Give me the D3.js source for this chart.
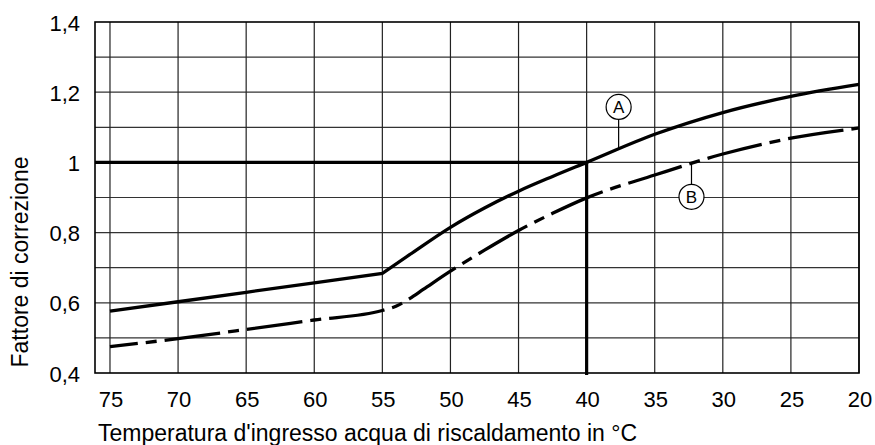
<!DOCTYPE html>
<html>
<head>
<meta charset="utf-8">
<script src="https://cdn.jsdelivr.net/npm/d3@7"></script>
<style>
  body { margin: 0; background: #fff; }
  svg { font-family: "Liberation Sans", Arial, sans-serif; }
</style>
</head>
<body>
<div id="chart"></div>
<script>
// Data
var temps = [75, 70, 65, 60, 55, 53, 50, 47.5, 45, 42.5, 40, 35, 30, 25, 20];
var curveA = [0.576, 0.603, 0.630, 0.657, 0.684, 0.737, 0.815, 0.870, 0.918, 0.960, 1.0, 1.080, 1.142, 1.188, 1.222];
var kinkA = 55; // curve A has a sharp corner here

var tempsB = [75, 70, 65, 60, 55, 54, 53, 52, 50, 47.5, 45, 42.5, 40, 35, 30, 25, 20];
var curveB = [0.475, 0.498, 0.524, 0.551, 0.578, 0.590, 0.612, 0.638, 0.690, 0.750, 0.806, 0.855, 0.899, 0.964, 1.024, 1.069, 1.098];

var xTicks = [75, 70, 65, 60, 55, 50, 45, 40, 35, 30, 25, 20];
var yGrid = [0.5, 0.6, 0.7, 0.8, 0.9, 1.0, 1.1, 1.2, 1.3];
var yTicks = [0.4, 0.6, 0.8, 1.0, 1.2, 1.4];

// reference point (40 °C -> factor 1)
var refPoint = {t: 40, v: 1.0};

// callout labels: circle position and where the leader meets the curve
var callouts = [
    {name: "A", t: 37.65, v: 1.158, to: 1.040},
    {name: "B", t: 32.3, v: 0.902, to: 1.000}
];

var width = 875, height = 445;

var svg = d3.select("#chart")
    .append("svg")
    .attr("width", width)
    .attr("height", height);

var x = d3.scaleLinear().domain([76.1, 20]).range([95, 859]);
var y = d3.scaleLinear().domain([0.4, 1.4]).range([373, 22]);

var fmt = function(d) {
    return d3.format(".1f")(d).replace(".", ",").replace(",0", "");
};

//Grid
svg.append("g")
    .selectAll("line")
    .data(yGrid)
    .enter()
    .append("line")
    .attr("x1", x.range()[0])
    .attr("x2", x.range()[1])
    .attr("y1", d => y(d))
    .attr("y2", d => y(d))
    .attr("stroke", "#333")
    .attr("stroke-width", 1.2);

svg.append("g")
    .selectAll("line")
    .data(xTicks)
    .enter()
    .append("line")
    .attr("x1", d => x(d))
    .attr("x2", d => x(d))
    .attr("y1", y.range()[0])
    .attr("y2", y.range()[1])
    .attr("stroke", "#222")
    .attr("stroke-width", 1.2);

//Frame
svg.append("rect")
    .attr("x", x.range()[0])
    .attr("y", y.range()[1])
    .attr("width", x.range()[1] - x.range()[0])
    .attr("height", y.range()[0] - y.range()[1])
    .attr("fill", "none")
    .attr("stroke", "#000")
    .attr("stroke-width", 1.6);

//Reference lines
svg.append("line")
    .attr("x1", x.range()[0])
    .attr("x2", x(refPoint.t))
    .attr("y1", y(refPoint.v))
    .attr("y2", y(refPoint.v))
    .attr("stroke", "#000")
    .attr("stroke-width", 3.2);

svg.append("line")
    .attr("x1", x(refPoint.t))
    .attr("x2", x(refPoint.t))
    .attr("y1", y(refPoint.v))
    .attr("y2", y.range()[0] + 2)
    .attr("stroke", "#000")
    .attr("stroke-width", 3.2);

//Curves
var smooth = d3.line()
    .x(d => x(d[0]))
    .y(d => y(d[1]))
    .curve(d3.curveMonotoneX);

var straight = d3.line()
    .x(d => x(d[0]))
    .y(d => y(d[1]));

// A: straight up to the kink, smooth after it
var ptsA = d3.zip(temps, curveA);
var partA1 = ptsA.filter(d => d[0] >= kinkA);
var partA2 = ptsA.filter(d => d[0] <= kinkA);

svg.append("path")
    .attr("d", straight(partA1) + smooth(partA2).replace(/^M/, "L"))
    .attr("fill", "none")
    .attr("stroke", "#000")
    .attr("stroke-width", 3.3)
    .attr("stroke-linejoin", "miter");

svg.append("path")
    .datum(d3.zip(tempsB, curveB))
    .attr("d", smooth)
    .attr("fill", "none")
    .attr("stroke", "#000")
    .attr("stroke-width", 3.3)
    .attr("stroke-dasharray", "56,8,11,8")
    .attr("stroke-dashoffset", 28);

//Callouts
var r = 12.5;
var call = svg.append("g")
    .selectAll("g")
    .data(callouts)
    .enter()
    .append("g");

call.append("line")
    .attr("x1", d => x(d.t))
    .attr("x2", d => x(d.t))
    .attr("y1", d => y(d.v) + (d.to > d.v ? -r : r))
    .attr("y2", d => y(d.to))
    .attr("stroke", "#000")
    .attr("stroke-width", 1.2);

call.append("circle")
    .attr("cx", d => x(d.t))
    .attr("cy", d => y(d.v))
    .attr("r", r)
    .attr("fill", "#fff")
    .attr("stroke", "#000")
    .attr("stroke-width", 1.2);

call.append("text")
    .attr("x", d => x(d.t))
    .attr("y", d => y(d.v))
    .attr("dy", "0.36em")
    .attr("text-anchor", "middle")
    .style("font-size", "17px")
    .text(d => d.name);

//Tick labels
svg.append("g")
    .selectAll("text")
    .data(xTicks)
    .enter()
    .append("text")
    .attr("x", d => x(d) + 1)
    .attr("y", y.range()[0] + 33.5)
    .attr("text-anchor", "middle")
    .style("font-size", "22px")
    .text(d => d);

svg.append("g")
    .selectAll("text")
    .data(yTicks)
    .enter()
    .append("text")
    .attr("x", 80)
    .attr("y", d => y(d) + 8.5)
    .attr("text-anchor", "end")
    .style("font-size", "22px")
    .text(fmt);

//Axis titles
svg.append("text")
    .attr("x", 98)
    .attr("y", 440.5)
    .style("font-size", "23px")
    .text("Temperatura d'ingresso acqua di riscaldamento in °C");

svg.append("text")
    .attr("transform", "translate(28,262) rotate(-90)")
    .attr("text-anchor", "middle")
    .style("font-size", "23px")
    .text("Fattore di correzione");
</script>
</body>
</html>
